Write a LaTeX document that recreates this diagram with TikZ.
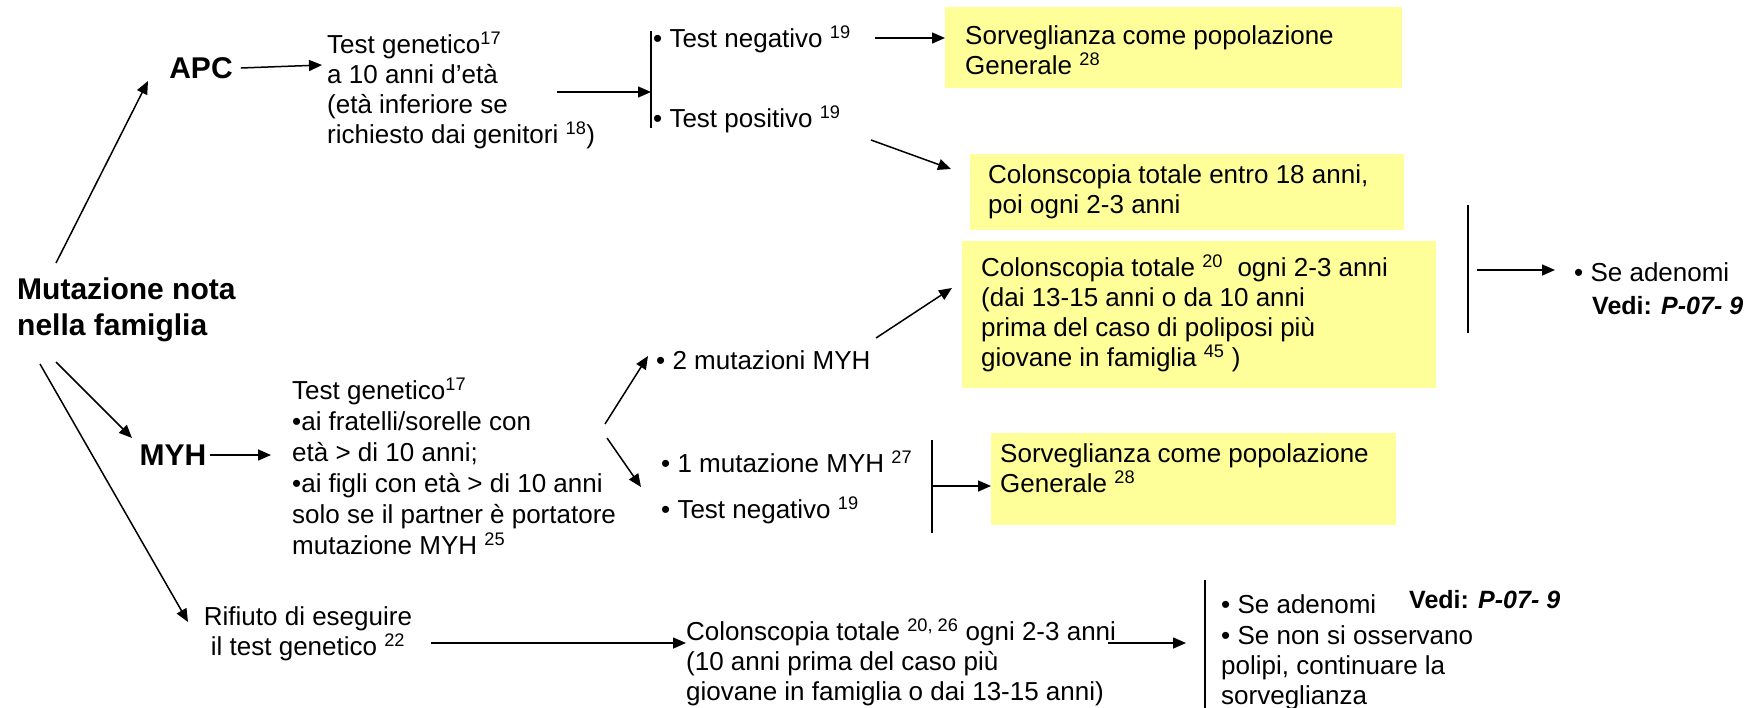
\documentclass[tikz,border=0pt]{standalone}
\usepackage{fontspec}
\setmainfont{Liberation Sans}
\usetikzlibrary{arrows.meta}
\definecolor{boxyellow}{HTML}{FFFF99}
\tikzset{
  txt/.style={font=\fontsize{26}{30}\selectfont, inner sep=0pt, anchor=west, align=left},
  bigbold/.style={font=\fontsize{30}{36}\selectfont\bfseries, inner sep=0pt, align=left},
  vedi/.style={font=\fontsize{25}{30}\selectfont\bfseries, inner sep=0pt, anchor=west},
  ybox/.style={fill=boxyellow, draw=none, inner sep=0pt, anchor=north west},
  arr/.style={-{Triangle[length=13pt,width=11pt]}, line width=1.5pt},
  ln/.style={line width=1.4pt},
}
\begin{document}
\begin{tikzpicture}[x=1pt,y=-1pt]
\useasboundingbox[fill=white] (0,0) rectangle (1745,707);
% yellow boxes
\node[ybox, minimum width=457pt, minimum height=81pt] (b1) at (945,7) {};
\node[ybox, minimum width=434pt, minimum height=76pt] (b2) at (970,154) {};
\node[ybox, minimum width=474pt, minimum height=147pt] (b3) at (962,241) {};
\node[ybox, minimum width=405pt, minimum height=92pt] (b4) at (991,433) {};
% main
\node[bigbold, anchor=west] (main) at (17,310) {Mutazione nota\\nella famiglia};
\node[bigbold] (apc) at (201,68) {APC};
\node[bigbold] (myh) at (173,455) {MYH};
% APC branch
\node[txt] (apcT) at (327,90) {Test genetico\textsuperscript{17}\\a 10 anni d’età\\(età inferiore se\\richiesto dai genitori \textsuperscript{18})};
\node[txt] (neg1) at (653,39) {• Test negativo \textsuperscript{19}};
\node[txt] (pos1) at (653,119) {• Test positivo \textsuperscript{19}};
\node[txt] (b1t) at (965,50) {Sorveglianza come popolazione\\Generale \textsuperscript{28}};
\node[txt] (b2t) at (988,192) {Colonscopia totale entro 18 anni,\\poi ogni 2-3 anni};
\node[txt] (b3t) at (981,313) {Colonscopia totale \textsuperscript{20}\ \ ogni 2-3 anni\\(dai 13-15 anni o da 10 anni\\prima del caso di poliposi più\\giovane in famiglia \textsuperscript{45} )};
\node[txt] (sead1) at (1574,272) {• Se adenomi};
\node[vedi] (vedi1) at (1592,306) {Vedi: \textit{P-07- 9}};
% MYH branch
\node[txt, font=\fontsize{26}{31}\selectfont] (myhT) at (292,466) {Test genetico\textsuperscript{17}\\•ai fratelli/sorelle con\\età > di 10 anni;\\•ai figli con età > di 10 anni\\solo se il partner è portatore\\mutazione MYH \textsuperscript{25}};
\node[txt] (two) at (656,360) {• 2 mutazioni MYH};
\node[txt] (one) at (661,462) {• 1 mutazione MYH \textsuperscript{27}};
\node[txt] (neg2) at (661,510) {• Test negativo \textsuperscript{19}};
\node[txt] (b4t) at (1000,468) {Sorveglianza come popolazione\\Generale \textsuperscript{28}};
% refusal branch
\node[txt, align=center, anchor=center] (rif) at (308,634) {Rifiuto di eseguire\\il test genetico \textsuperscript{22}};
\node[txt] (colon) at (686,662) {Colonscopia totale \textsuperscript{20, 26} ogni 2-3 anni\\(10 anni prima del caso più\\giovane in famiglia o dai 13-15 anni)};
\node[txt] (sead2) at (1221,604) {• Se adenomi};
\node[vedi] (vedi2) at (1409,600) {Vedi: \textit{P-07- 9}};
\node[txt] (senon) at (1221,668) {• Se non si osservano\\polipi, continuare la\\sorveglianza};
% coordinates
\coordinate (m1) at (56,263);
\coordinate (apcIn) at (148,81);
\coordinate (m2) at (56,362);
\coordinate (myhIn) at (132,438);
\coordinate (m3) at (40,364);
\coordinate (rifIn) at (188,622);
\coordinate (apcTip) at (322,65);
\coordinate (a1s) at (557,92);
\coordinate (br1t) at (651,31);
\coordinate (br1b) at (651,128);
\coordinate (n1e) at (875,38);
\coordinate (p1a) at (871,140);
\coordinate (p1b) at (951,169);
\coordinate (v1t) at (1468,205);
\coordinate (v1b) at (1468,333);
\coordinate (v1a) at (1477,270);
\coordinate (v1z) at (1555,270);
\coordinate (myhTip) at (271,455);
\coordinate (s1) at (605,424);
\coordinate (s1e) at (648,356);
\coordinate (s2) at (607,438);
\coordinate (s2e) at (641,487);
\coordinate (t1) at (876,338);
\coordinate (t1e) at (952,288);
\coordinate (v2t) at (932,440);
\coordinate (v2b) at (932,533);
\coordinate (v2a) at (932,486);
\coordinate (r1) at (431,643);
\coordinate (c1) at (1108,643);
\coordinate (c1e) at (1186,643);
\coordinate (v3t) at (1205,580);
\coordinate (v3b) at (1205,710);
% connectors
\draw[arr] (m1) -- (apcIn);
\draw[arr] (m2) -- (myhIn);
\draw[arr] (m3) -- (rifIn);
\draw[arr] (apc.east) ++(8,0) -- (apcTip);
\draw[ln] (br1t) -- (br1b);
\draw[arr] (a1s) -- (br1t |- a1s);
\draw[arr] (n1e) -- (b1.west |- n1e);
\draw[arr] (p1a) -- (p1b);
\draw[ln] (v1t) -- (v1b);
\draw[arr] (v1a) -- (v1z);
\draw[arr] (myh.east) ++(3,0) -- (myhTip);
\draw[arr] (s1) -- (s1e);
\draw[arr] (s2) -- (s2e);
\draw[arr] (t1) -- (t1e);
\draw[ln] (v2t) -- (v2b);
\draw[arr] (v2a) -- (b4.west |- v2a);
\draw[arr] (r1) -- (colon.west |- r1);
\draw[arr] (c1) -- (c1e);
\draw[ln] (v3t) -- (v3b);
\end{tikzpicture}
\end{document}
